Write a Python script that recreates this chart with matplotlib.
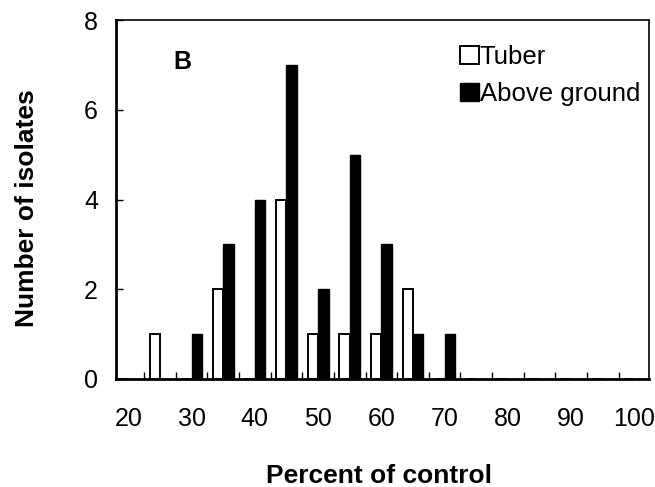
import matplotlib
matplotlib.use("Agg")
import matplotlib.pyplot as plt
from matplotlib.ticker import FixedLocator
import numpy as np

plt.rcParams['font.family'] = ['Liberation Sans', 'DejaVu Sans']

# Data: category (percent of control) and number of isolates
categories = [20, 25, 30, 35, 40, 45, 50, 55, 60, 65, 70, 75, 80, 85, 90, 95, 100]
tuber = [0, 1, 0, 2, 0, 4, 1, 1, 1, 2, 0, 0, 0, 0, 0, 0, 0]
above_ground = [0, 0, 1, 3, 4, 7, 2, 5, 3, 1, 1, 0, 0, 0, 0, 0, 0]
xtick_labels = [20, 30, 40, 50, 60, 70, 80, 90, 100]
ytick_labels = [0, 2, 4, 6, 8]

W, H = 655, 487
fig = plt.figure(figsize=(W / 100, H / 100), dpi=100)
ax = fig.add_axes([116 / W, 1 - 379 / H, 533 / W, 359 / H])

cat = np.array(categories, dtype=float)
bw = 1.65
ax.bar(cat - bw, tuber, width=bw, align='edge', color='white',
       edgecolor='black', linewidth=1.4, label='Tuber', zorder=2)
ax.bar(cat, above_ground, width=bw, align='edge', color='black',
       edgecolor='black', linewidth=1.0, label='Above ground', zorder=3)

ax.set_xlim(18.05, 102.3)
ax.set_ylim(0, 8)

ax.set_xticks(xtick_labels)
ax.set_xticklabels([str(v) for v in xtick_labels])
ax.xaxis.set_minor_locator(FixedLocator(np.arange(22.5, 100, 5)))
ax.tick_params(axis='x', which='major', length=0, pad=20, labelsize=18)
ax.tick_params(axis='x', which='minor', direction='in', length=5, width=1)

ax.set_yticks(ytick_labels)
ax.set_yticklabels([str(v) for v in ytick_labels])
ax.tick_params(axis='y', which='major', direction='in', length=5, width=1,
               pad=13, labelsize=18)

for s in ['left', 'bottom']:
    ax.spines[s].set_linewidth(2.0)
for s in ['top', 'right']:
    ax.spines[s].set_linewidth(1.2)

ax.text(0.107, 0.883, 'B', transform=ax.transAxes, fontsize=18,
        fontweight='bold', ha='left', va='center')

leg = ax.legend(loc='upper left', bbox_to_anchor=(460 / W, 1 - 45 / H),
                bbox_transform=fig.transFigure, frameon=False, fontsize=18.5,
                borderpad=0, borderaxespad=0, handletextpad=0.02,
                handlelength=0.74, handleheight=0.72, labelspacing=0.5)

fig.text(27 / W, 1 - 208.5 / H, 'Number of isolates', rotation=90,
         ha='center', va='center', fontsize=19, fontweight='bold')
fig.text(378.5 / W, 1 - 483 / H, 'Percent of control', ha='center',
         va='baseline', fontsize=19, fontweight='bold')

fig.savefig('out.png', dpi=100)
